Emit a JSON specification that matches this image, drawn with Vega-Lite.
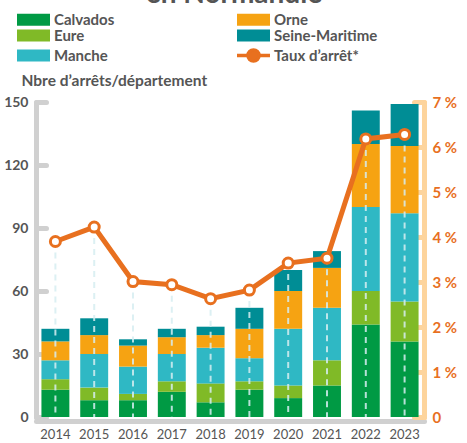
{
  "$schema": "https://vega.github.io/schema/vega-lite/v6.json",
  "width": 388,
  "height": 315,
  "autosize": "none",
  "padding": {"left": 36, "top": 102, "right": 43, "bottom": 26},
  "background": "white",
  "title": {"text": "en Normandie", "font": "Lato", "fontSize": 28, "fontWeight": "bold", "color": "#555555", "anchor": "middle", "baseline": "alphabetic", "offset": 0, "dx": 4, "dy": 19},
  "config": {"view": {"stroke": null}, "font": "Lato"},
  "datasets": {
    "arrets": [
      {"annee": "2014", "dept": "Calvados", "n": 13}, {"annee": "2014", "dept": "Eure", "n": 5}, {"annee": "2014", "dept": "Manche", "n": 9}, {"annee": "2014", "dept": "Orne", "n": 9}, {"annee": "2014", "dept": "Seine-Maritime", "n": 6},
      {"annee": "2015", "dept": "Calvados", "n": 8}, {"annee": "2015", "dept": "Eure", "n": 6}, {"annee": "2015", "dept": "Manche", "n": 16}, {"annee": "2015", "dept": "Orne", "n": 9}, {"annee": "2015", "dept": "Seine-Maritime", "n": 8},
      {"annee": "2016", "dept": "Calvados", "n": 8}, {"annee": "2016", "dept": "Eure", "n": 3}, {"annee": "2016", "dept": "Manche", "n": 13}, {"annee": "2016", "dept": "Orne", "n": 10}, {"annee": "2016", "dept": "Seine-Maritime", "n": 3},
      {"annee": "2017", "dept": "Calvados", "n": 12}, {"annee": "2017", "dept": "Eure", "n": 5}, {"annee": "2017", "dept": "Manche", "n": 13}, {"annee": "2017", "dept": "Orne", "n": 8}, {"annee": "2017", "dept": "Seine-Maritime", "n": 4},
      {"annee": "2018", "dept": "Calvados", "n": 7}, {"annee": "2018", "dept": "Eure", "n": 9}, {"annee": "2018", "dept": "Manche", "n": 17}, {"annee": "2018", "dept": "Orne", "n": 6}, {"annee": "2018", "dept": "Seine-Maritime", "n": 4},
      {"annee": "2019", "dept": "Calvados", "n": 13}, {"annee": "2019", "dept": "Eure", "n": 4}, {"annee": "2019", "dept": "Manche", "n": 11}, {"annee": "2019", "dept": "Orne", "n": 14}, {"annee": "2019", "dept": "Seine-Maritime", "n": 10},
      {"annee": "2020", "dept": "Calvados", "n": 9}, {"annee": "2020", "dept": "Eure", "n": 6}, {"annee": "2020", "dept": "Manche", "n": 27}, {"annee": "2020", "dept": "Orne", "n": 18}, {"annee": "2020", "dept": "Seine-Maritime", "n": 10},
      {"annee": "2021", "dept": "Calvados", "n": 15}, {"annee": "2021", "dept": "Eure", "n": 12}, {"annee": "2021", "dept": "Manche", "n": 25}, {"annee": "2021", "dept": "Orne", "n": 19}, {"annee": "2021", "dept": "Seine-Maritime", "n": 8},
      {"annee": "2022", "dept": "Calvados", "n": 44}, {"annee": "2022", "dept": "Eure", "n": 16}, {"annee": "2022", "dept": "Manche", "n": 40}, {"annee": "2022", "dept": "Orne", "n": 30}, {"annee": "2022", "dept": "Seine-Maritime", "n": 16},
      {"annee": "2023", "dept": "Calvados", "n": 36}, {"annee": "2023", "dept": "Eure", "n": 19}, {"annee": "2023", "dept": "Manche", "n": 42}, {"annee": "2023", "dept": "Orne", "n": 32}, {"annee": "2023", "dept": "Seine-Maritime", "n": 20}
    ],
    "taux": [
      {"annee": "2014", "taux": 3.9}, {"annee": "2015", "taux": 4.22}, {"annee": "2016", "taux": 3.01}, {"annee": "2017", "taux": 2.94},
      {"annee": "2018", "taux": 2.63}, {"annee": "2019", "taux": 2.82}, {"annee": "2020", "taux": 3.42}, {"annee": "2021", "taux": 3.53},
      {"annee": "2022", "taux": 6.18}, {"annee": "2023", "taux": 6.28}
    ]
  },
  "encoding": {
    "x": {
      "field": "annee", "type": "ordinal",
      "scale": {"paddingInner": 0.28, "paddingOuter": 0.14},
      "axis": {"title": null, "labelAngle": 0, "ticks": false, "offset": 4, "domainColor": "#d0d0d0", "domainWidth": 5, "domainCap": "round", "labelColor": "#555555", "labelFontSize": 13, "labelPadding": 7, "labelFont": "Lato"}
    }
  },
  "layer": [
    {
      "data": {"name": "arrets"},
      "mark": {"type": "bar"},
      "encoding": {
        "y": {
          "field": "n", "type": "quantitative", "aggregate": "sum", "stack": "zero",
          "scale": {"domain": [0, 150], "nice": false},
          "axis": {
            "orient": "left", "values": [0, 30, 60, 90, 120, 150], "grid": false,
            "domainColor": "#d0d0d0", "domainWidth": 5, "domainCap": "round",
            "tickColor": "#d0d0d0", "tickWidth": 5, "tickCap": "round", "tickSize": -10,
            "labelColor": "#555555", "labelFontSize": 14, "labelFontWeight": "bold", "labelPadding": 18,
            "title": "Nbre d’arrêts/département", "titleAngle": 0, "titleAlign": "left", "titleBaseline": "middle",
            "titleX": -15, "titleY": -22, "titleFontSize": 15.5, "titleFontWeight": "bold", "titleColor": "#555555", "titleFont": "Lato"
          }
        },
        "color": {
          "field": "dept", "type": "nominal",
          "scale": {
            "domain": ["Calvados", "Eure", "Manche", "Orne", "Seine-Maritime", "Taux d’arrêt*"],
            "range": ["#009a44", "#80ba27", "#2fb8c4", "#f6a312", "#008d95", "#e8701f"]
          },
          "legend": {
            "title": null, "orient": "none", "legendX": -19, "legendY": -90, "columns": 2,
            "columnPadding": 115, "rowPadding": -1, "padding": 0,
            "symbolSize": 1089, "symbolType": "M-1,-0.36H1V0.36H-1Z", "symbolOffset": 9, "labelOffset": 13,
            "labelFontSize": 15, "labelFontWeight": "bold", "labelColor": "#555555", "labelFont": "Lato",
            "encode": {
              "symbols": {
                "update": {
                  "shape": {"signal": "datum.index === 5 ? 'M-1,0H-0.34M0.34,0H1M-0.34,0A0.34,0.34 0 1,0 0.34,0A0.34,0.34 0 1,0 -0.34,0Z' : 'M-1,-0.36H1V0.36H-1Z'"},
                  "fill": {"signal": "datum.index === 5 ? '#ffffff' : scale('color', datum.value)"},
                  "stroke": {"signal": "datum.index === 5 ? '#e8701f' : 'transparent'"},
                  "strokeWidth": {"signal": "datum.index === 5 ? 3.3 : 0"},
                  "opacity": {"value": 1}
                }
              }
            }
          }
        },
        "order": {"field": "dept", "sort": "ascending"}
      }
    },
    {
      "data": {"name": "taux"},
      "encoding": {
        "y": {
          "field": "taux", "type": "quantitative",
          "scale": {"domain": [0, 7], "nice": false},
          "axis": {
            "orient": "right", "values": [0, 1, 2, 3, 4, 5, 6, 7], "grid": false,
            "domainColor": "#fdd49c", "domainWidth": 5, "domainCap": "round",
            "tickColor": "#fdd49c", "tickWidth": 5, "tickCap": "round", "tickSize": -10,
            "labelColor": "#e8701f", "labelFontSize": 15, "labelFontWeight": "bold", "labelPadding": 18,
            "labelExpr": "datum.value === 0 ? '0' : datum.value + ' %'",
            "title": null
          }
        }
      },
      "layer": [
        {
          "mark": {"type": "rule", "strokeDash": [6, 5], "strokeWidth": 2, "color": "#d6edf1", "opacity": 0.85},
          "encoding": {"y2": {"datum": 0}}
        },
        {
          "mark": {"type": "line", "strokeWidth": 5},
          "encoding": {"color": {"datum": "Taux d’arrêt*"}}
        },
        {
          "mark": {"type": "point", "filled": true, "fill": "#ffffff", "stroke": "#e8701f", "strokeWidth": 3, "size": 100, "opacity": 1}
        }
      ]
    }
  ],
  "resolve": {"scale": {"y": "independent"}}
}
